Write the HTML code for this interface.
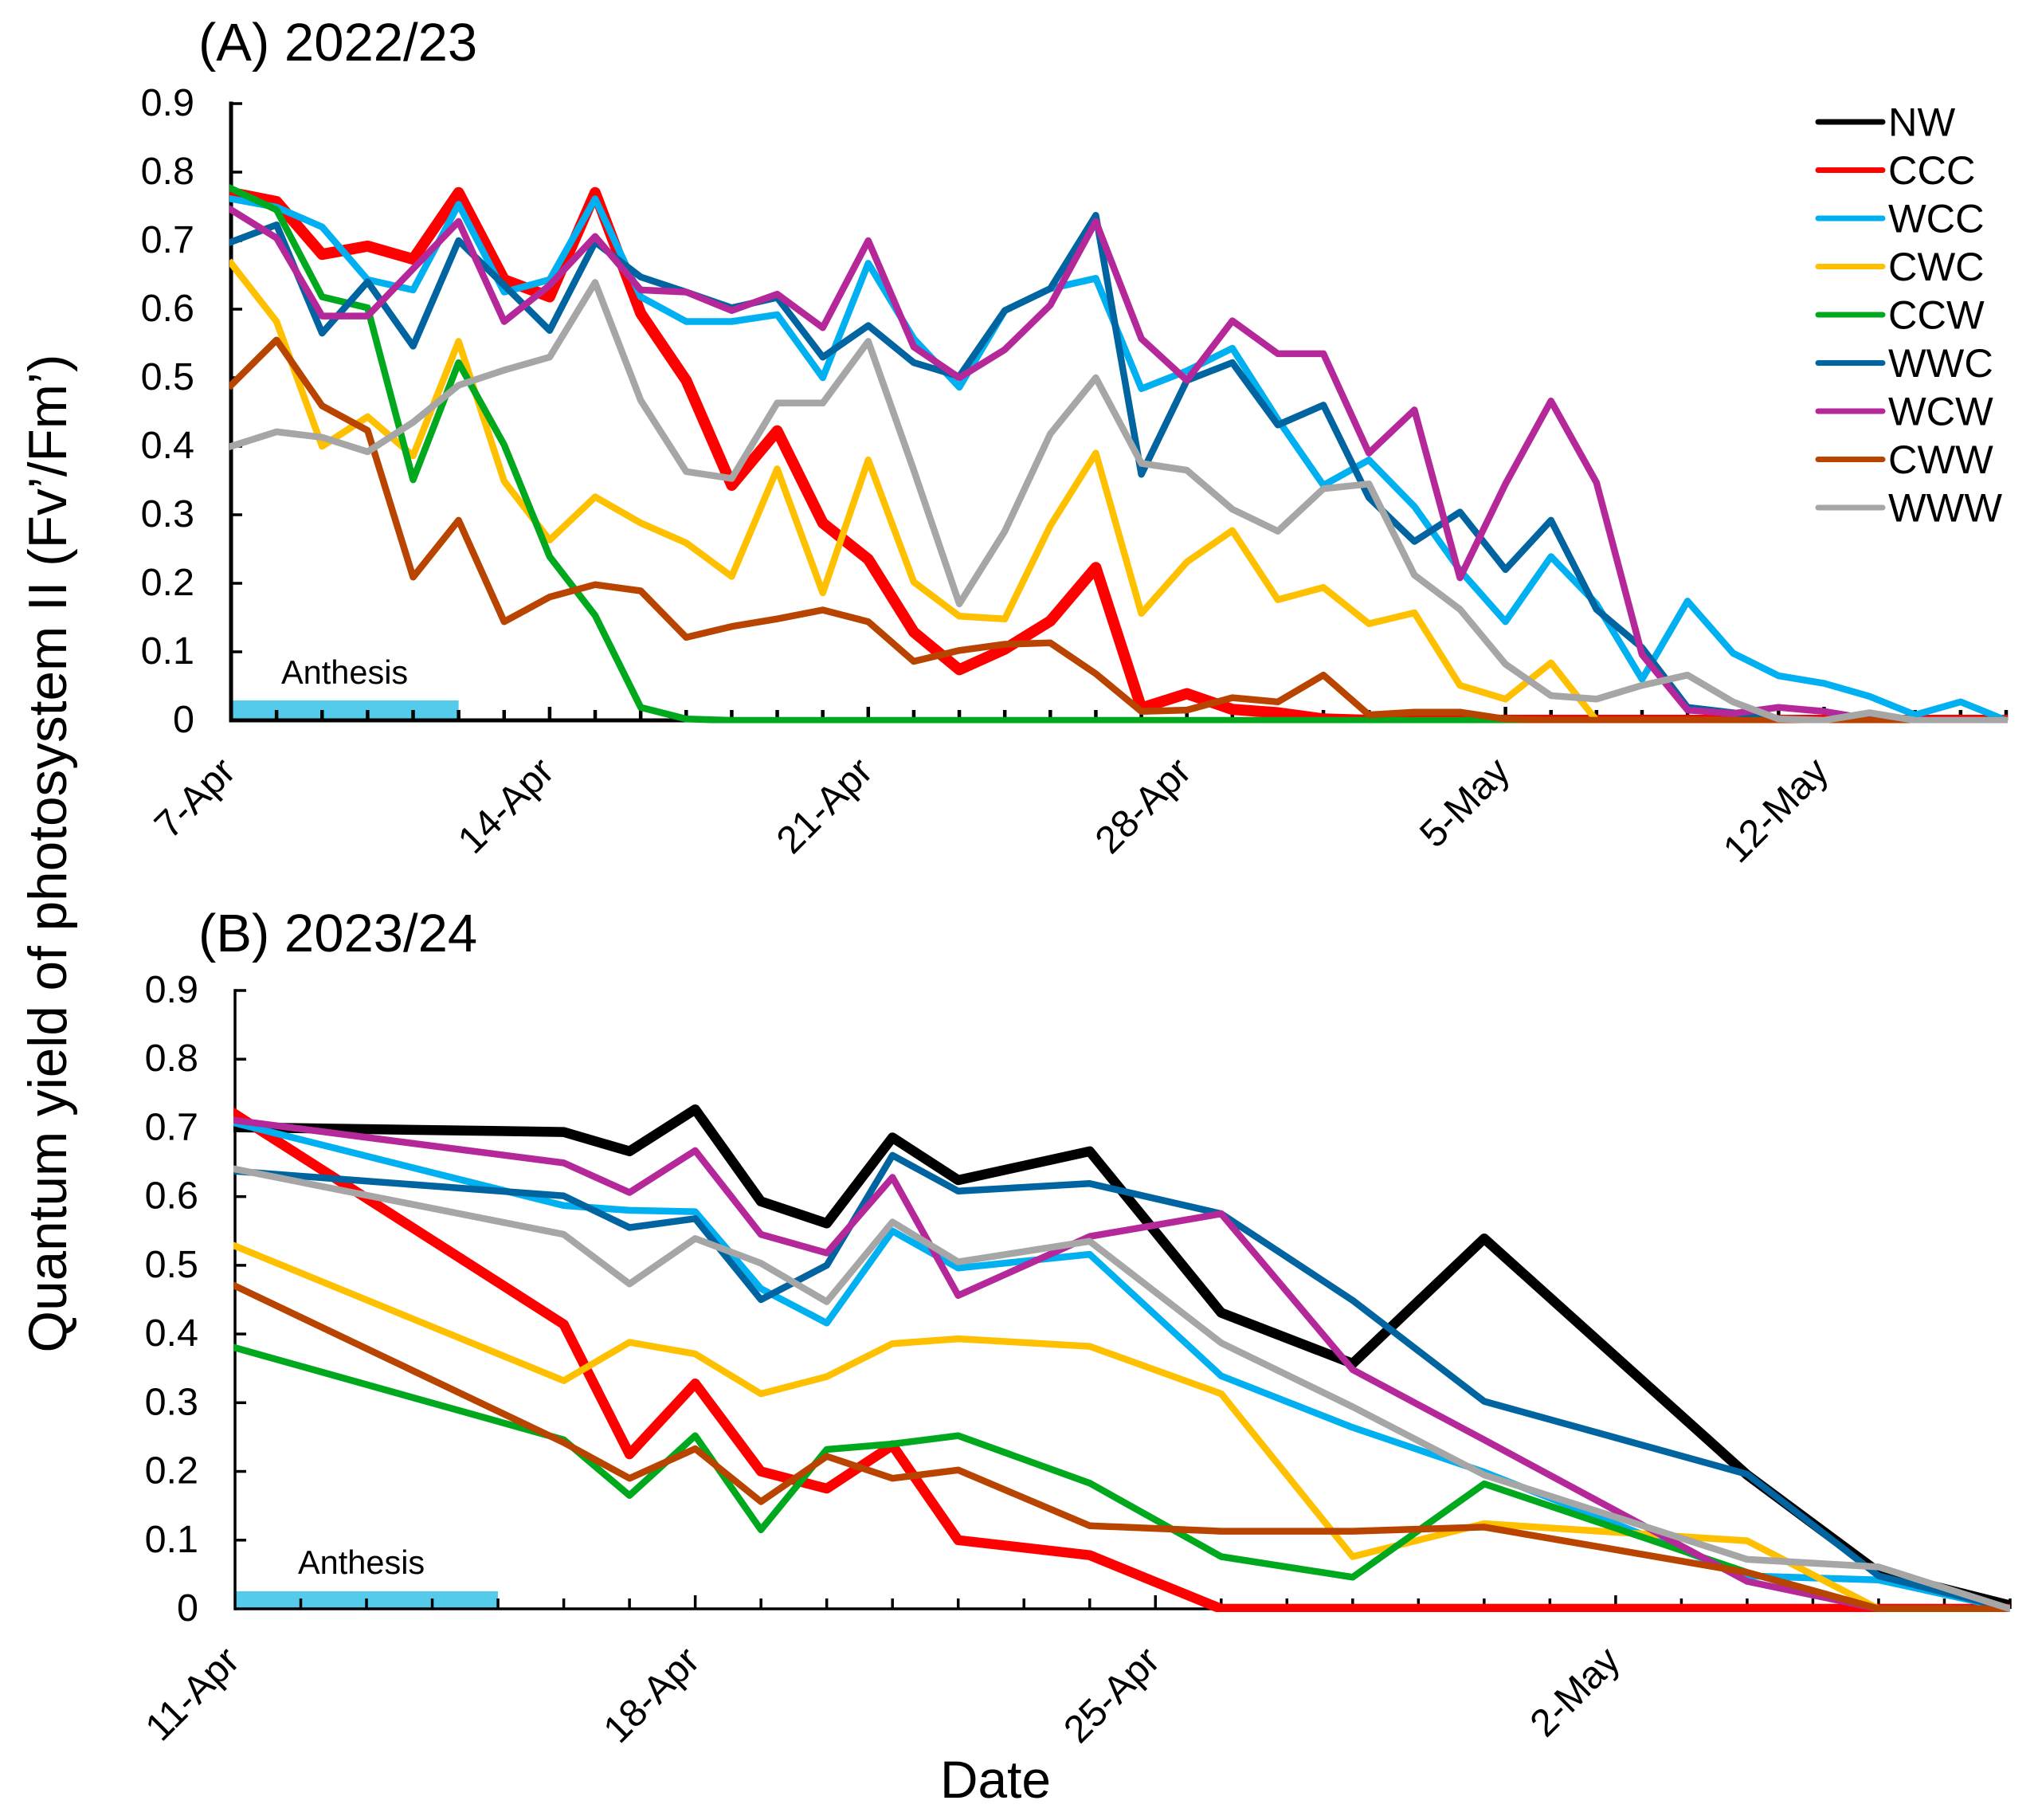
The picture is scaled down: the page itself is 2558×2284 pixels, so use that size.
<!DOCTYPE html>
<html lang="en">
<head>
<meta charset="utf-8">
<title>Quantum yield of photosystem II</title>
<style>
html,body{margin:0;padding:0;background:#fff;}
svg{display:block;font-family:"Liberation Sans",Arial,sans-serif;}
</style>
</head>
<body>
<svg id="chart" xmlns="http://www.w3.org/2000/svg" width="2558" height="2284" viewBox="0 0 2558 2284">
<rect x="0" y="0" width="2558" height="2284" fill="#fff"/>
<text x="83" y="1071" font-size="67.5" text-anchor="middle" transform="rotate(-90 83 1071)">Quantum yield of photosystem II (Fv’/Fm’)</text>
<text x="1180" y="2256" font-size="66" textLength="139" lengthAdjust="spacingAndGlyphs">Date</text>
<text x="249" y="76" font-size="67">(A) 2022/23</text>
<text x="249" y="1194" font-size="67">(B) 2023/24</text>
<defs>
<clipPath id="clipA"><rect x="288" y="100" width="2232" height="807.5"/></clipPath>
<clipPath id="clipB"><rect x="293" y="1200" width="2230" height="823"/></clipPath>
</defs>
<g id="panelA"></g>
<g id="panelB"></g>
<g id="legend"></g>
</svg>
<script>
const yTicks = ["0","0.1","0.2","0.3","0.4","0.5","0.6","0.7","0.8","0.9"];
const yTickValues = [0,0.1,0.2,0.3,0.4,0.5,0.6,0.7,0.8,0.9];

const seriesNames = ["NW","CCC","WCC","CWC","CCW","WWC","WCW","CWW","WWW"];
const seriesColors = ["#000000","#ff0000","#00b0f0","#ffc000","#00a81e","#0064a0","#b5289a","#b94400","#a6a6a6"];

/* Panel A: one reading per day, 7 Apr (day 0) to 16 May (day 39) */
const aDays = [0,1,2,3,4,5,6,7,8,9,10,11,12,13,14,15,16,17,18,19,20,21,22,23,24,25,26,27,28,29,30,31,32,33,34,35,36,37,38,39];
const aTickDays = [0,7,14,21,28,35];
const aTickLabels = ["7-Apr","14-Apr","21-Apr","28-Apr","5-May","12-May"];
const aCCC = [.77,.757,.68,.692,.673,.77,.643,.618,.77,.594,.496,.343,.4225,.288,.235,.129,.074,.104,.145,.223,.018,.039,.016,.011,.002,0,0,0,0,0,0,0,0,0,0,0,0,0,0,0];
const aWCC = [.761,.749,.72,.643,.628,.753,.625,.643,.761,.618,.582,.582,.592,.5,.667,.557,.486,.598,.63,.645,.484,.51,.543,.439,.343,.38,.312,.219,.144,.239,.17,.06,.174,.098,.065,.054,.035,.008,.027,0];
const aCWC = [.667,.582,.4,.443,.386,.553,.349,.263,.326,.288,.259,.21,.367,.186,.38,.202,.152,.148,.284,.39,.156,.231,.277,.176,.194,.141,.157,.051,.031,.084,0,0,0,0,0,0,0,0,0,0];
const aCCW = [.776,.745,.618,.602,.351,.522,.402,.239,.153,.019,.002,0,0,0,0,0,0,0,0,0,0,0,0,0,0,0,0,0,0,0,0,0,0,0,0,0,0,0,0,0];
const aWWC = [.698,.723,.565,.64,.546,.7,.635,.569,.698,.647,.625,.602,.617,.53,.576,.522,.502,.598,.63,.737,.359,.496,.522,.431,.46,.325,.261,.304,.22,.292,.162,.106,.019,.011,.002,0,0,0,0,0];
const aWCW = [.745,.704,.59,.59,.659,.728,.582,.635,.706,.628,.625,.598,.622,.573,.7,.545,.5,.541,.606,.728,.557,.496,.583,.535,.535,.39,.453,.208,.345,.466,.347,.096,.015,.01,.019,.013,.002,0,0,0];
const aCWW = [.489,.555,.459,.423,.209,.292,.144,.18,.198,.189,.121,.137,.148,.161,.144,.086,.102,.111,.113,.068,.013,.015,.033,.027,.066,.008,.012,.012,.002,0,0,0,0,0,0,0,0,0,0,0];
const aWWW = [.4,.421,.413,.392,.435,.489,.511,.53,.639,.467,.363,.353,.463,.463,.553,.365,.17,.276,.418,.5,.375,.365,.308,.276,.338,.345,.212,.162,.082,.036,.031,.051,.066,.027,.002,0,.011,0,0,0];

/* Panel B: irregular reading days, 11 Apr (day 0) to 8 May (day 27) */
const bDays = [0,5,6,7,8,9,10,11,13,15,17,19,23,25,27];
const bTickDays = [0,7,14,21];
const bTickLabels = ["11-Apr","18-Apr","25-Apr","2-May"];
const bNW  = [.701,.694,.666,.727,.593,.561,.686,.624,.666,.431,.357,.539,.195,.053,.005];
const bCCC = [.72,.414,.225,.328,.2,.175,.238,.1,.078,0,0,0,0,0,0];
const bWCC = [.707,.587,.58,.578,.466,.416,.55,.496,.516,.339,.264,.199,.048,.042,0];
const bCWC = [.528,.332,.388,.371,.313,.338,.386,.393,.382,.313,.076,.124,.099,0,0];
const bCCW = [.38,.246,.165,.252,.115,.232,.24,.252,.183,.076,.046,.182,.053,0,0];
const bWWC = [.637,.601,.555,.568,.45,.5,.66,.608,.619,.575,.449,.302,.196,.048,0];
const bWCW = [.711,.649,.606,.667,.545,.518,.628,.456,.542,.575,.348,.246,.04,0,0];
const bCWW = [.47,.242,.19,.233,.156,.222,.19,.202,.121,.113,.113,.119,.053,0,0];
const bWWW = [.64,.545,.473,.539,.503,.447,.563,.505,.535,.387,.294,.195,.072,.061,0];

const anthesisA = [0,5];
const anthesisB = [0,4];

const SVGNS = "http://www.w3.org/2000/svg";
function mk(tag, parent, attrs, txt){
  const el = document.createElementNS(SVGNS, tag);
  for (const k in attrs) el.setAttribute(k, attrs[k]);
  if (txt !== undefined) el.textContent = txt;
  parent.appendChild(el);
  return el;
}

function drawPanel(root, cfg){
  const x = d => cfg.x0 + (cfg.x1 - cfg.x0) * d / cfg.maxDay;
  const y = v => cfg.y0 + (cfg.y9 - cfg.y0) * v / 0.9;

  const bar = mk("rect", root, {x:x(cfg.anth[0]), y:cfg.y0-cfg.barH, width:x(cfg.anth[1])-x(cfg.anth[0]), height:cfg.barH, fill:"#55cbec"});
  
  
  const alabel = mk("text", root, {x:cfg.anthX, y:cfg.anthY, "font-size":41.5}, "Anthesis");
  
  

  const yAxis = mk("line", root, {x1:cfg.x0, x2:cfg.x0, y1:y(0.9)-cfg.aw/2, y2:y(0)+cfg.aw/2, stroke:"#000", "stroke-width":cfg.aw});
  
  
  const xAxis = mk("line", root, {x1:cfg.x0, x2:cfg.x1, y1:y(0), y2:y(0), stroke:"#000", "stroke-width":cfg.aw});
  
  

  yTickValues.forEach((v,i)=>{
    if (v > 0){
      const t = mk("line", root, {x1:cfg.x0, x2:cfg.x0+cfg.ytl, y1:y(v), y2:y(v), stroke:"#000", "stroke-width":3.5});
      
      
    }
    const l = mk("text", root, {x:cfg.ylx, y:y(v)+15, "font-size":48.5, "text-anchor":"end"}, yTicks[i]);
    
    
  });

  for (let d = 1; d <= cfg.maxDay; d++){
    const major = cfg.tickDays.includes(d);
    const t = mk("line", root, {x1:x(d), x2:x(d), y1:y(0), y2:y(0)-(major?17:13), stroke:"#000", "stroke-width":cfg.tw});
    
    
  }
  cfg.tickDays.forEach((d,i)=>{
    const px = x(d)+cfg.lx, py = cfg.ly;
    const l = mk("text", root, {x:px, y:py, "font-size":48.5, "text-anchor":"end", transform:"rotate(-45 "+px+" "+py+")"}, cfg.tickLabels[i]);
    
    
  });

  const lines = mk("g", root, {"clip-path":"url(#"+cfg.clip+")"});
  
  
  cfg.series.forEach(s=>{
    const pts = s.values.map((v,i)=>x(cfg.days[i]).toFixed(1)+","+y(v).toFixed(1)).join(" ");
    const p = mk("polyline", lines, {points:pts, fill:"none", stroke:seriesColors[seriesNames.indexOf(s.name)], "stroke-width":s.w, "stroke-linejoin":"round", "stroke-linecap":"square"});
    
    
  });
}

drawPanel(document.getElementById("panelA"), {
  x0:290, x1:2518, y0:904, y9:130, maxDay:39, aw:5, tw:4.5, ytl:14, ylx:244, lx:8, ly:971, barH:25, clip:"clipA",
  anth:anthesisA, anthX:353, anthY:858, days:aDays, tickDays:aTickDays, tickLabels:aTickLabels,
  series:[
    {name:"CCC",values:aCCC,w:14},{name:"WCC",values:aWCC,w:8.5},{name:"CWC",values:aCWC,w:8.5},
    {name:"CCW",values:aCCW,w:8.5},{name:"WWC",values:aWWC,w:8.5},{name:"WCW",values:aWCW,w:8.5},
    {name:"CWW",values:aCWW,w:8.5},{name:"WWW",values:aWWW,w:8.5}
  ]
});

drawPanel(document.getElementById("panelB"), {
  x0:295, x1:2523, y0:2019, y9:1243, maxDay:27, aw:3.5, tw:3.5, ytl:14, ylx:249, lx:8, ly:2087, barH:22, clip:"clipB",
  anth:anthesisB, anthX:374, anthY:1975, days:bDays, tickDays:bTickDays, tickLabels:bTickLabels,
  series:[
    {name:"NW",values:bNW,w:12.5},{name:"CCC",values:bCCC,w:12.5},{name:"WCC",values:bWCC,w:8.5},
    {name:"CWC",values:bCWC,w:8.5},{name:"CCW",values:bCCW,w:8.5},{name:"WWC",values:bWWC,w:8.5},
    {name:"WCW",values:bWCW,w:8.5},{name:"CWW",values:bCWW,w:8.5},{name:"WWW",values:bWWW,w:8.5}
  ]
});

const legendRoot = document.getElementById("legend");
seriesNames.forEach((n,i)=>{
  const ly = 153 + i*60.5;
  const line = mk("line", legendRoot, {x1:2282, x2:2363, y1:ly, y2:ly, stroke:seriesColors[i], "stroke-width":7, "stroke-linecap":"round"});
  
  
  const txt = mk("text", legendRoot, {x:2370, y:ly+17.5, "font-size":50.5}, n);
  
  
});
</script>
</body>
</html>
